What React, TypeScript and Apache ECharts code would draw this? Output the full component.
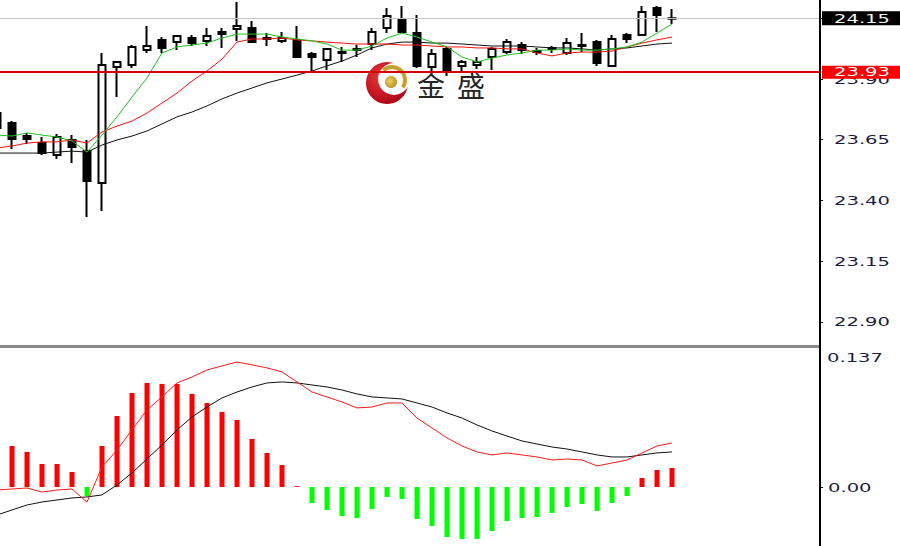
import React, { useEffect, useRef } from "react";
import * as echarts from "echarts";

// ---- candle data (bar -1 .. 44, bar -1 is partly off the left edge) ----
const opens = [23.760, 23.719, 23.665, 23.636, 23.587, 23.649, 23.603, 23.472, 23.949, 23.958, 24.019, 24.061, 24.052, 24.069, 24.057, 24.085, 24.106, 24.110, 24.069, 24.057, 24.061, 24.003, 23.978, 24.007, 24.019, 24.044, 24.110, 24.147, 24.089, 23.949, 24.024, 23.954, 23.958, 23.991, 24.011, 24.040, 24.011, 24.024, 24.007, 24.036, 24.052, 23.954, 24.081, 24.081, 24.192, 24.148];
const closes = [23.698, 23.653, 23.653, 23.595, 23.661, 23.620, 23.480, 23.958, 23.970, 24.032, 24.036, 24.028, 24.077, 24.048, 24.077, 24.094, 24.118, 24.052, 24.065, 24.069, 23.991, 23.991, 24.024, 24.011, 24.024, 24.094, 24.159, 24.094, 23.954, 24.003, 23.937, 23.970, 23.970, 24.024, 24.052, 24.019, 24.015, 24.028, 24.048, 24.040, 23.966, 24.065, 24.065, 24.176, 24.164, 24.150];
const lows = [23.686, 23.612, 23.632, 23.587, 23.571, 23.554, 23.332, 23.356, 23.826, 23.945, 24.007, 24.007, 24.019, 24.036, 24.036, 24.028, 24.057, 24.052, 24.036, 24.048, 23.991, 23.933, 23.937, 23.970, 23.991, 24.019, 24.089, 24.094, 23.945, 23.929, 23.912, 23.933, 23.941, 23.937, 24.003, 24.003, 23.999, 24.007, 23.999, 24.011, 23.954, 23.954, 24.048, 24.081, 24.094, 24.127];
const highs = [23.772, 23.727, 23.678, 23.661, 23.673, 23.669, 23.649, 24.007, 23.972, 24.040, 24.118, 24.073, 24.081, 24.081, 24.110, 24.110, 24.217, 24.139, 24.089, 24.094, 24.118, 24.011, 24.024, 24.032, 24.040, 24.110, 24.192, 24.201, 24.164, 24.024, 24.032, 23.978, 23.991, 24.032, 24.065, 24.052, 24.028, 24.036, 24.069, 24.089, 24.061, 24.081, 24.089, 24.201, 24.201, 24.188];

// ---- moving averages ----
const maFast = [23.669, 23.665, 23.678, 23.669, 23.661, 23.645, 23.599, 23.669, 23.744, 23.826, 23.904, 24.007, 24.032, 24.040, 24.048, 24.069, 24.085, 24.085, 24.085, 24.073, 24.065, 24.057, 24.044, 24.019, 24.019, 24.036, 24.069, 24.089, 24.073, 24.052, 24.032, 23.991, 23.970, 23.986, 23.999, 24.007, 24.019, 24.019, 24.024, 24.019, 24.019, 24.024, 24.032, 24.052, 24.089, 24.127];
const maMid = [23.616, 23.624, 23.636, 23.641, 23.641, 23.649, 23.636, 23.682, 23.706, 23.727, 23.760, 23.801, 23.842, 23.892, 23.933, 23.982, 24.052, 24.065, 24.065, 24.069, 24.061, 24.057, 24.052, 24.048, 24.044, 24.044, 24.044, 24.040, 24.040, 24.036, 24.032, 24.032, 24.028, 24.028, 24.024, 24.024, 24.007, 23.995, 24.007, 24.011, 24.011, 24.015, 24.032, 24.048, 24.061, 24.073];
const maSlow = [23.595, 23.595, 23.595, 23.595, 23.599, 23.603, 23.599, 23.628, 23.649, 23.665, 23.686, 23.715, 23.744, 23.764, 23.789, 23.818, 23.842, 23.863, 23.884, 23.900, 23.916, 23.933, 23.954, 23.974, 23.999, 24.028, 24.044, 24.052, 24.052, 24.048, 24.048, 24.044, 24.040, 24.036, 24.036, 24.036, 24.032, 24.028, 24.028, 24.024, 24.019, 24.024, 24.028, 24.036, 24.044, 24.048];

// ---- MACD ----
const macdHist = [0.0477, 0.0407, 0.0348, 0.0228, 0.0228, 0.0149, -0.0089, 0.0407, 0.0705, 0.0933, 0.1033, 0.1023, 0.1023, 0.0924, 0.0834, 0.0745, 0.0665, 0.0477, 0.0338, 0.0218, 0.0008, -0.0159, -0.0228, -0.0288, -0.0308, -0.0218, -0.0099, -0.0119, -0.0318, -0.0387, -0.0497, -0.0516, -0.0516, -0.0437, -0.0338, -0.0308, -0.0298, -0.0258, -0.0199, -0.0169, -0.0238, -0.0159, -0.0089, 0.0089, 0.0169, 0.0189];
const macdDif = [-0.003, -0.002, -0.001, -0.005, -0.003, -0.002, -0.015, 0.0199, 0.0367, 0.0566, 0.0765, 0.0894, 0.1033, 0.1092, 0.1162, 0.1202, 0.1241, 0.1212, 0.1182, 0.1142, 0.1043, 0.0943, 0.0894, 0.0844, 0.0785, 0.0794, 0.0834, 0.0834, 0.0685, 0.0586, 0.0487, 0.0407, 0.0348, 0.0318, 0.0338, 0.0318, 0.0298, 0.0268, 0.0278, 0.0268, 0.0209, 0.0238, 0.0268, 0.0338, 0.0407, 0.0437];
const macdDea = [-0.0278, -0.0228, -0.0179, -0.0149, -0.0129, -0.0109, -0.0099, -0.0079, 0.0020, 0.0139, 0.0278, 0.0417, 0.0566, 0.0695, 0.0794, 0.0884, 0.0943, 0.0993, 0.1033, 0.1043, 0.1033, 0.1013, 0.0993, 0.0963, 0.0924, 0.0894, 0.0884, 0.0874, 0.0834, 0.0794, 0.0735, 0.0685, 0.0616, 0.0556, 0.0506, 0.0457, 0.0427, 0.0397, 0.0377, 0.0348, 0.0318, 0.0298, 0.0298, 0.0318, 0.0338, 0.0348];

// ---- axis ticks / reference levels ----
const priceTicks = ["24.15", "23.90", "23.65", "23.40", "23.15", "22.90"];
const macdTopLabel = "0.137";
const macdTicks = ["0.00"];
const bidPrice = "24.15";
const levelPrice = "23.93";

const FIRST_BAR = -1;

export default function App() {
  const ref = useRef<HTMLDivElement>(null);

  useEffect(() => {
    if (!ref.current) return;
    const chart = echarts.init(ref.current, null, { renderer: "svg" });
    const pos = opens.map((_, i) => i + FIRST_BAR);
    const candles = pos.map((x, i) => [x, opens[i], closes[i], lows[i], highs[i]]);
    const pair = (arr: number[]) => arr.map((v, i) => [pos[i], v]);

    const xCommon = { type: "value", min: -0.8, max: 53.867, show: false };
    const priceTickVals = priceTicks.map(Number);

    chart.setOption({
      animation: false,
      backgroundColor: "#ffffff",
      grid: [
        { left: 0, top: 0, width: 820, height: 346 },
        { left: 0, top: 349, width: 820, height: 197 },
      ],
      xAxis: [
        { ...xCommon, gridIndex: 0 },
        { ...xCommon, gridIndex: 1 },
      ],
      yAxis: [
        {
          gridIndex: 0,
          type: "value",
          position: "right",
          min: 22.8003,
          max: 24.2254,
          scale: true,
          splitLine: { show: false },
          axisLine: { show: true, onZero: false, lineStyle: { color: "#000", width: 2 } },
          axisTick: { show: true, customValues: priceTickVals, length: 3, lineStyle: { color: "#000", width: 1 } },
          axisLabel: { show: false },
        },
        {
          gridIndex: 1,
          type: "value",
          position: "right",
          min: -0.0586,
          max: 0.137,
          splitLine: { show: false },
          axisLine: { show: true, onZero: false, lineStyle: { color: "#000", width: 2 } },
          axisTick: { show: true, customValues: macdTicks.map(Number), length: 3, lineStyle: { color: "#000", width: 1 } },
          axisLabel: { show: false },
        },
      ],
      series: [
        {
          type: "candlestick",
          xAxisIndex: 0,
          yAxisIndex: 0,
          barWidth: 7,
          data: candles,
          itemStyle: {
            color: "#ffffff",
            color0: "#000000",
            borderColor: "#000000",
            borderColor0: "#000000",
            borderWidth: 2,
          },
          markLine: {
            silent: true,
            symbol: "none",
            label: { show: false },
            data: [
              { yAxis: Number(bidPrice), lineStyle: { color: "#c4c4c4", width: 1, type: "solid" } },
              { yAxis: Number(levelPrice), lineStyle: { color: "#d60000", width: 2, type: "solid" } },
            ],
          },
        },
        {
          type: "line", xAxisIndex: 0, yAxisIndex: 0, data: pair(maSlow), showSymbol: false,
          lineStyle: { color: "#111111", width: 1 }, z: 3,
        },
        {
          type: "line", xAxisIndex: 0, yAxisIndex: 0, data: pair(maMid), showSymbol: false,
          lineStyle: { color: "#ff1010", width: 1 }, z: 3,
        },
        {
          type: "line", xAxisIndex: 0, yAxisIndex: 0, data: pair(maFast), showSymbol: false,
          lineStyle: { color: "#20c020", width: 1 }, z: 3,
        },
        {
          type: "bar",
          xAxisIndex: 1,
          yAxisIndex: 1,
          barWidth: 5,
          data: pair(macdHist),
          itemStyle: { color: (p: any) => (p.value[1] >= 0 ? "#ff0000" : "#00ff00") },
        },
        {
          type: "line", xAxisIndex: 1, yAxisIndex: 1, data: pair(macdDea), showSymbol: false,
          lineStyle: { color: "#111111", width: 1 }, z: 3,
        },
        {
          type: "line", xAxisIndex: 1, yAxisIndex: 1, data: pair(macdDif), showSymbol: false,
          lineStyle: { color: "#ff1a1a", width: 1 }, z: 3,
        },
      ],
    });

    const py = (v: number) => chart.convertToPixel({ yAxisIndex: 0 } as any, v) as number;
    const my = (v: number) => chart.convertToPixel({ yAxisIndex: 1 } as any, v) as number;
    const font = '12px "DejaVu Sans"';
    const label = (text: string, x: number, y: number, fill: string, z: number) => ({
      type: "text",
      x,
      y,
      scaleX: 1.63,
      z,
      style: {
        text,
        x: 0,
        y: 0,
        fill,
        font,
        textAlign: "left",
        textVerticalAlign: "middle",
        align: "left",
        verticalAlign: "middle",
      },
    });

    const els: any[] = [];
    // watermark logo
    els.push({
      type: "circle", z: 1, shape: { cx: 387, cy: 83, r: 21 },
      style: {
        fill: new echarts.graphic.RadialGradient(0.4, 0.35, 0.75, [
          { offset: 0, color: "#f03a3a" },
          { offset: 1, color: "#a50012" },
        ]),
      },
    });
    els.push({ type: "circle", z: 1, shape: { cx: 394, cy: 79, r: 16 }, style: { fill: "#ffffff" } });
    els.push({
      type: "arc", z: 1, shape: { cx: 392, cy: 80, r: 13, startAngle: -2.3, endAngle: 0.6 },
      style: { stroke: "#c9a02c", lineWidth: 4, fill: "none" },
    });
    els.push({
      type: "circle", z: 1, shape: { cx: 391, cy: 82, r: 6 },
      style: {
        fill: new echarts.graphic.RadialGradient(0.4, 0.4, 0.7, [
          { offset: 0, color: "#f0d060" },
          { offset: 1, color: "#b08a18" },
        ]),
      },
    });
    ["金", "盛"].forEach((t, i) => {
      els.push({
        type: "text", z: 1, x: 417 + i * 40, y: 85,
        style: {
          text: t, fill: "#262626", font: '28px "Noto Sans CJK SC"',
          textAlign: "left", textVerticalAlign: "middle", align: "left", verticalAlign: "middle",
        },
      });
    });

    // panel separator and axis line
    els.push({ type: "rect", z: 20, shape: { x: 0, y: 345, width: 821, height: 3 }, style: { fill: "#8a8a8a" } });
    els.push({ type: "rect", z: 21, shape: { x: 819, y: 0, width: 2, height: 546 }, style: { fill: "#000000" } });

    // price tick labels
    priceTicks.forEach((t) => els.push(label(t, 834, py(Number(t)) + 0.5, "#1c1c40", 20)));
    // bid box
    const by = py(Number(bidPrice));
    els.push({ type: "rect", z: 22, shape: { x: 822, y: by - 7, width: 78, height: 14 }, style: { fill: "#000000" } });
    els.push(label(bidPrice, 834, by + 0.5, "#f4f4f4", 23));
    // level box
    const ly = py(Number(levelPrice));
    els.push({ type: "rect", z: 22, shape: { x: 822, y: ly - 6, width: 78, height: 13 }, style: { fill: "#ff0000" } });
    els.push(label(levelPrice, 834, ly + 0.5, "#ffffff", 23));
    // macd labels
    els.push(label(macdTopLabel, 827, my(Number(macdTopLabel)) + 8.5, "#1c1c40", 20));
    macdTicks.forEach((t) => els.push(label(t, 828, my(Number(t)) + 0.5, "#1c1c40", 20)));

    chart.setOption({ graphic: { elements: els } });

    return () => chart.dispose();
  }, []);

  return (
    <div
      ref={ref}
      style={{ position: "fixed", left: 0, top: 0, width: 900, height: 546, background: "#fff" }}
    />
  );
}
